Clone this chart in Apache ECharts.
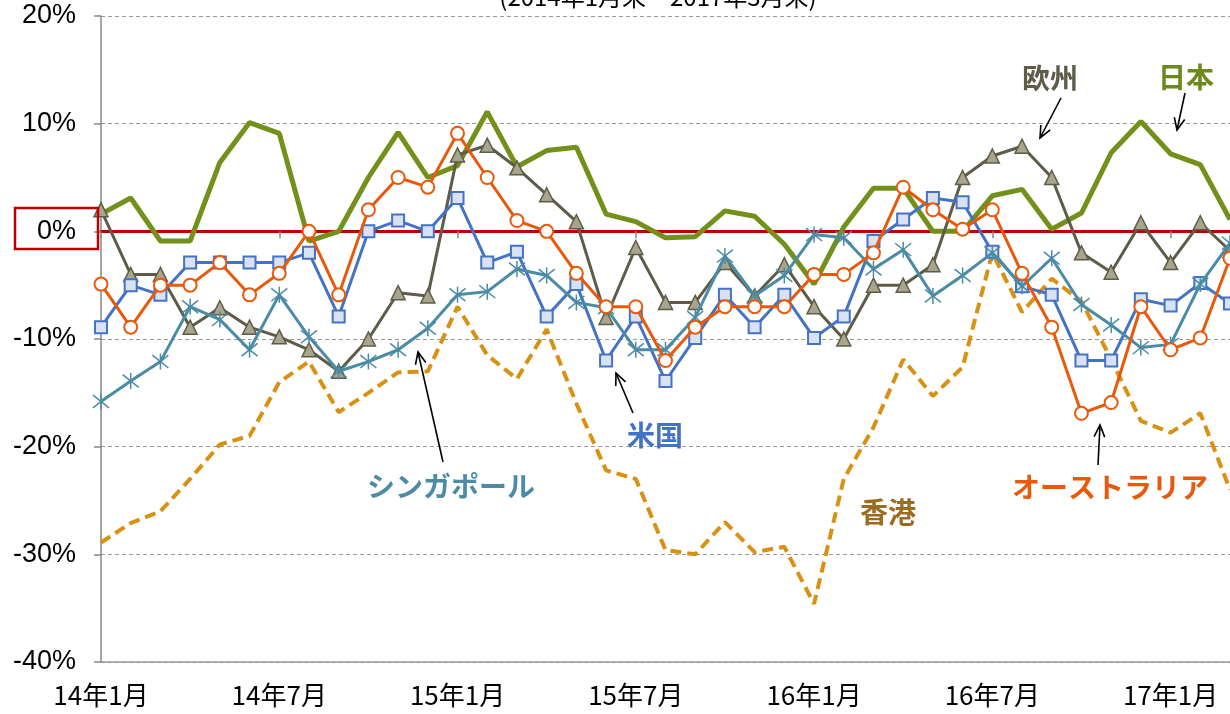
<!DOCTYPE html>
<html>
<head>
<meta charset="utf-8">
<script src="https://cdn.jsdelivr.net/npm/echarts@6/dist/echarts.min.js"></script>
<style>
  html, body { margin: 0; padding: 0; background: #fff; }
  #chart { width: 1230px; height: 714px; }
</style>
</head>
<body>
<div id="chart"></div>
<script>
// --- 月次カテゴリ (14年1月 ～ 17年3月) ---
const months = [
  '14年1月', '14年2月', '14年3月', '14年4月', '14年5月', '14年6月',
  '14年7月', '14年8月', '14年9月', '14年10月', '14年11月', '14年12月',
  '15年1月', '15年2月', '15年3月', '15年4月', '15年5月', '15年6月',
  '15年7月', '15年8月', '15年9月', '15年10月', '15年11月', '15年12月',
  '16年1月', '16年2月', '16年3月', '16年4月', '16年5月', '16年6月',
  '16年7月', '16年8月', '16年9月', '16年10月', '16年11月', '16年12月',
  '17年1月', '17年2月', '17年3月'
];

// --- 各市場の騰落率 (%) ---
const japan = [1.6, 3.1, -0.9, -0.9, 6.4, 10.1, 9.1, -0.9, 0.0, 5.0,
  9.2, 5.0, 6.1, 11.1, 6.0, 7.5, 7.8, 1.6, 0.9, -0.6,
  -0.5, 1.9, 1.4, -1.2, -4.9, 0.4, 4.0, 4.0, 0.0, 0.0,
  3.3, 3.9, 0.2, 1.7, 7.3, 10.2, 7.2, 6.2, 1.1];
const europe = [2.0, -4.0, -4.0, -8.9, -7.1, -8.9, -9.8, -11.0, -13.0, -10.0,
  -5.7, -6.0, 7.1, 8.0, 5.9, 3.4, 0.9, -8.0, -1.5, -6.6,
  -6.6, -2.9, -6.0, -3.1, -7.0, -10.0, -5.0, -5.0, -3.1, 5.0,
  7.0, 7.9, 5.0, -2.0, -3.8, 0.8, -2.9, 0.8, -1.8];
const usa = [-8.9, -5.0, -5.9, -2.9, -2.9, -2.9, -2.9, -2.0, -7.9, 0.0,
  1.0, 0.0, 3.1, -2.9, -1.9, -7.9, -4.9, -12.0, -7.9, -13.9,
  -9.9, -5.9, -8.9, -5.9, -9.9, -7.9, -0.9, 1.1, 3.1, 2.7,
  -1.9, -5.1, -5.9, -12.0, -12.0, -6.3, -6.9, -4.8, -6.7];
const australia = [-4.9, -8.9, -5.0, -5.0, -2.9, -5.9, -3.9, 0.0, -5.9, 2.0,
  5.0, 4.1, 9.1, 5.0, 1.0, 0.0, -3.9, -7.0, -7.0, -12.0,
  -8.9, -7.0, -7.0, -7.0, -4.0, -4.0, -2.0, 4.1, 2.0, 0.2,
  2.0, -3.9, -8.9, -16.9, -15.9, -7.0, -11.0, -9.9, -2.5];
const singapore = [-15.8, -13.9, -12.1, -7.0, -8.2, -11.0, -5.9, -9.8, -13.0, -12.1,
  -11.0, -9.0, -5.9, -5.6, -3.5, -4.1, -6.6, -7.1, -11.0, -11.0,
  -8.0, -2.3, -6.0, -4.1, -0.3, -0.6, -3.5, -1.7, -6.0, -4.1,
  -2.0, -5.1, -2.5, -6.8, -8.7, -10.8, -10.5, -4.9, -1.1];
const hongkong = [-28.9, -27.1, -26.0, -23.0, -19.8, -19.0, -14.0, -12.1, -16.8, -15.0,
  -13.1, -13.0, -7.0, -11.5, -13.7, -9.1, -16.0, -22.2, -23.0, -29.6,
  -30.0, -27.0, -29.8, -29.3, -34.6, -23.0, -18.2, -11.9, -15.3, -12.6,
  -2.0, -7.5, -4.4, -6.5, -11.9, -17.6, -18.7, -16.9, -24.0];

const chart = echarts.init(document.getElementById('chart'));

const JP = '"Noto Sans CJK JP", sans-serif';

// 注釈の矢印 (線 + V字の矢じり)
function arrow(x1, y1, x2, y2) {
  const a = Math.atan2(y2 - y1, x2 - x1), h = 13, s = 0.42;
  return [
    { type: 'line', shape: { x1, y1, x2, y2 }, style: { stroke: '#000', lineWidth: 1.6 }, z: 50 },
    { type: 'polyline', z: 50,
      shape: { points: [
        [x2 - h * Math.cos(a - s), y2 - h * Math.sin(a - s)],
        [x2, y2],
        [x2 - h * Math.cos(a + s), y2 - h * Math.sin(a + s)]
      ] },
      style: { stroke: '#000', fill: null, lineWidth: 1.6 } }
  ];
}

function note(text, x, y, color) {
  return { type: 'text', x, y, z: 50,
    style: { text, fill: color, font: 'bold 28px ' + JP, textAlign: 'center', textVerticalAlign: 'middle' } };
}

const option = {
  animation: false,
  backgroundColor: '#fff',
  grid: { left: 101, right: -7, top: 16, bottom: 52 },
  xAxis: [
    {
      type: 'category',
      position: 'bottom',
      data: months,
      boundaryGap: false,
      axisLine: { onZero: false, lineStyle: { color: '#999', width: 1.5 } },
      axisTick: { show: false },
      axisLabel: { interval: 5, color: '#000', fontSize: 26, fontFamily: JP, margin: 20 }
    },
    {
      // 0% の赤いライン (目盛り付き)
      type: 'category',
      position: 'bottom',
      data: months,
      boundaryGap: false,
      axisLine: { onZero: true, lineStyle: { color: '#c00000', width: 3 } },
      axisTick: { show: true, interval: 5, length: 7, lineStyle: { color: '#888', width: 1.5 } },
      axisLabel: { show: false }
    }
  ],
  yAxis: {
    type: 'value',
    min: -40,
    max: 20,
    interval: 10,
    axisLine: { show: true, lineStyle: { color: '#888', width: 1.5 } },
    axisTick: { show: true, length: 7, lineStyle: { color: '#888', width: 1.5 } },
    axisLabel: {
      formatter: v => v + '%',
      color: '#000', fontSize: 27, fontFamily: '"Liberation Sans", Arial, sans-serif', margin: 25
    },
    splitLine: { lineStyle: { color: '#999', width: 1, type: [4, 3] } }
  },
  series: [
    { name: '香港', type: 'line', data: hongkong, symbol: 'none', z: 2,
      lineStyle: { color: '#d99114', width: 4, type: [11, 6] } },
    { name: '日本', type: 'line', data: japan, symbol: 'none', z: 3,
      lineStyle: { color: '#72901a', width: 5 } },
    { name: '欧州', type: 'line', data: europe, symbol: 'triangle', symbolSize: 14, showAllSymbol: true, z: 4,
      lineStyle: { color: '#5e5c48', width: 3 },
      itemStyle: { color: '#a8a58c', borderColor: '#5e5c48', borderWidth: 1.5 } },
    { name: '米国', type: 'line', data: usa, symbol: 'rect', symbolSize: 12, showAllSymbol: true, z: 5,
      lineStyle: { color: '#4472c4', width: 3 },
      itemStyle: { color: '#d9e2f3', borderColor: '#4472c4', borderWidth: 2 } },
    { name: 'シンガポール', type: 'line', data: singapore, showAllSymbol: true, z: 6,
      symbol: 'path://M2,2L18,18M18,2L2,18M10,0L10,20', symbolSize: 16,
      lineStyle: { color: '#4b8ba5', width: 3 },
      itemStyle: { color: 'none', borderColor: '#4b8ba5', borderWidth: 1.5 } },
    { name: 'オーストラリア', type: 'line', data: australia, symbol: 'circle', symbolSize: 13, showAllSymbol: true, z: 7,
      lineStyle: { color: '#e8590c', width: 3 },
      itemStyle: { color: '#fff', borderColor: '#e8590c', borderWidth: 2 } }
  ],
  graphic: [
    // 上端で切れているサブタイトル
    { type: 'text', x: 658, y: 9, z: 50,
      style: { text: '(2014年1月末～2017年3月末)', fill: '#000', font: '24px ' + JP, textAlign: 'center', textVerticalAlign: 'bottom' } },
    // 0% ラベルの赤枠
    { type: 'rect', shape: { x: 15, y: 208, width: 83, height: 41 }, z: 50,
      style: { fill: null, stroke: '#c00000', lineWidth: 2.5 } },
    note('欧州', 1050, 78, '#5e5c48'),
    note('日本', 1186, 77, '#6b8a1a'),
    note('米国', 655, 435, '#4472c4'),
    note('シンガポール', 451, 486, '#4b8ba5'),
    note('香港', 888, 512, '#9d6b1f'),
    note('オーストラリア', 1110, 487, '#e8590c'),
    ...arrow(1061, 98, 1040, 138),
    ...arrow(1185, 93, 1177, 130),
    ...arrow(633, 413, 616, 373),
    ...arrow(443, 462, 418, 352),
    ...arrow(1098, 465, 1100, 425)
  ]
};

chart.setOption(option);
</script>
</body>
</html>
